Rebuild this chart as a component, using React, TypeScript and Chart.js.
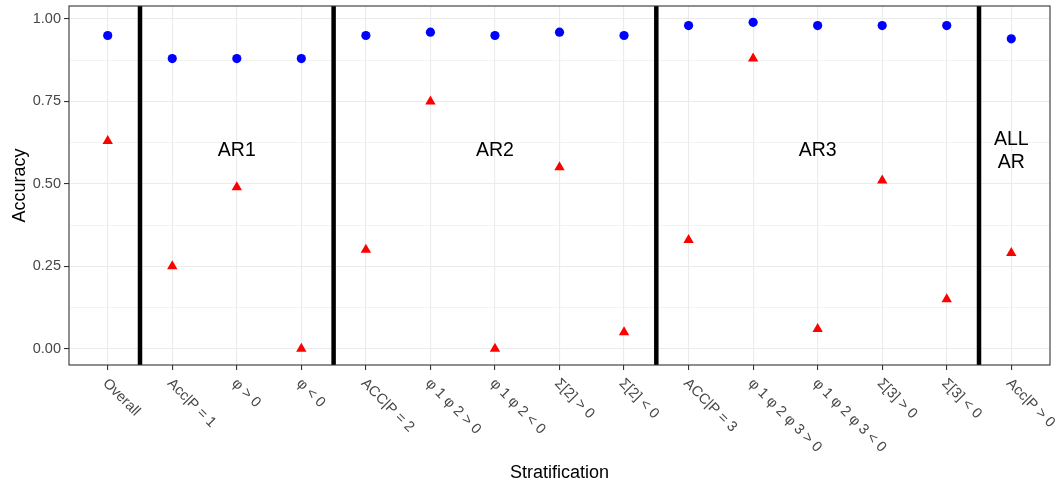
import React, { useEffect, useRef } from "react";
import { Chart, registerables } from "chart.js";

Chart.register(...registerables);

const categories = [
  "Overall",
  "Acc|P = 1",
  "φ > 0",
  "φ < 0",
  "ACC|P = 2",
  "φ 1 φ 2 > 0",
  "φ 1 φ 2 < 0",
  "Σ[2] > 0",
  "Σ[2] < 0",
  "ACC|P = 3",
  "φ 1 φ 2 φ 3 > 0",
  "φ 1 φ 2 φ 3 < 0",
  "Σ[3] > 0",
  "Σ[3] < 0",
  "Acc|P > 0",
];

const blueValues = [0.95, 0.88, 0.88, 0.88, 0.95, 0.96, 0.95, 0.96, 0.95, 0.98, 0.99, 0.98, 0.98, 0.98, 0.94];
const redValues = [0.63, 0.25, 0.49, 0.0, 0.3, 0.75, 0.0, 0.55, 0.05, 0.33, 0.88, 0.06, 0.51, 0.15, 0.29];

const separators = [0.5, 3.5, 8.5, 13.5];
const groupLabels = [
  { x: 2, y: 0.6, lines: ["AR1"] },
  { x: 6, y: 0.6, lines: ["AR2"] },
  { x: 11, y: 0.6, lines: ["AR3"] },
  { x: 14, y: 0.6, lines: ["ALL", "AR"] },
];
const yTicks = [0, 0.125, 0.25, 0.375, 0.5, 0.625, 0.75, 0.875, 1];

const FONT = "'Liberation Sans', Arial, sans-serif";

const isMajor = (v: number) => Math.abs(v * 4 - Math.round(v * 4)) < 1e-6;

const overlay = {
  id: "overlay",
  beforeDatasetsDraw(chart: any) {
    const { ctx, chartArea, scales } = chart;
    ctx.save();
    ctx.strokeStyle = "#000000";
    ctx.lineWidth = 4.5;
    for (const s of separators) {
      const px = scales.x.getPixelForValue(s);
      ctx.beginPath();
      ctx.moveTo(px, chartArea.top);
      ctx.lineTo(px, chartArea.bottom);
      ctx.stroke();
    }
    ctx.restore();
  },
  afterDraw(chart: any) {
    const { ctx, chartArea, scales } = chart;
    ctx.save();
    // group annotations
    ctx.fillStyle = "#000000";
    ctx.font = `19.5px ${FONT}`;
    ctx.textAlign = "center";
    ctx.textBaseline = "middle";
    const lh = 23.5;
    for (const g of groupLabels) {
      const px = scales.x.getPixelForValue(g.x);
      const py = scales.y.getPixelForValue(g.y);
      const n = g.lines.length;
      g.lines.forEach((t, i) => {
        ctx.fillText(t, px, py + (i - (n - 1) / 2) * lh);
      });
    }
    // panel border
    ctx.strokeStyle = "#333333";
    ctx.lineWidth = 1.1;
    ctx.strokeRect(chartArea.left, chartArea.top, chartArea.right - chartArea.left, chartArea.bottom - chartArea.top);
    // x tick labels
    ctx.fillStyle = "#474747";
    ctx.font = `14.5px ${FONT}`;
    ctx.textAlign = "left";
    ctx.textBaseline = "top";
    categories.forEach((c, i) => {
      const px = scales.x.getPixelForValue(i);
      ctx.save();
      ctx.translate(px + 2.5, chartArea.bottom + 11);
      ctx.rotate(Math.PI / 4);
      ctx.fillText(c, 0, 0);
      ctx.restore();
    });
    // axis titles
    ctx.fillStyle = "#000000";
    ctx.font = `18px ${FONT}`;
    ctx.textAlign = "center";
    ctx.textBaseline = "alphabetic";
    ctx.fillText("Stratification", (chartArea.left + chartArea.right) / 2, 478);
    ctx.save();
    ctx.translate(25, (chartArea.top + chartArea.bottom) / 2);
    ctx.rotate(-Math.PI / 2);
    ctx.fillText("Accuracy", 0, 0);
    ctx.restore();
    ctx.restore();
  },
};

export default function App() {
  const ref = useRef<HTMLCanvasElement | null>(null);
  useEffect(() => {
    if (!ref.current) return;
    const chart = new Chart(ref.current, {
      type: "scatter",
      data: {
        datasets: [
          {
            label: "blue",
            data: blueValues.map((v, i) => ({ x: i, y: v })),
            backgroundColor: "#0000ff",
            borderColor: "#0000ff",
            pointStyle: "circle",
            pointRadius: 4.6,
            borderWidth: 0,
          },
          {
            label: "red",
            data: redValues.map((v, i) => ({ x: i, y: v })),
            backgroundColor: "#ff0000",
            borderColor: "#ff0000",
            pointStyle: "triangle",
            pointRadius: 6,
            borderWidth: 0,
          },
        ],
      },
      options: {
        animation: false,
        responsive: false,
        devicePixelRatio: 1,
        layout: { padding: { top: 5, right: 10, left: 0, bottom: 0 } },
        plugins: { legend: { display: false }, tooltip: { enabled: false } },
        scales: {
          x: {
            type: "linear",
            min: -0.6,
            max: 14.6,
            afterBuildTicks: (scale: any) => {
              scale.ticks = categories.map((_, i) => ({ value: i }));
            },
            afterFit: (scale: any) => {
              scale.height = 116;
              scale.paddingLeft = 0;
              scale.paddingRight = 0;
            },
            ticks: { display: false },
            border: { display: false },
            grid: {
              color: "#ebebeb",
              lineWidth: 1.1,
              tickColor: "#333333",
              tickLength: 5,
              tickWidth: 1.1,
            },
          },
          y: {
            type: "linear",
            min: -0.0495,
            max: 1.0395,
            afterBuildTicks: (scale: any) => {
              scale.ticks = yTicks.map((v) => ({ value: v }));
            },
            afterFit: (scale: any) => {
              scale.width = 69;
              scale.paddingTop = 0;
              scale.paddingBottom = 0;
            },
            ticks: {
              color: "#474747",
              font: { family: FONT, size: 14.5 },
              padding: 3,
              callback: (v: any) => (isMajor(Number(v)) ? Number(v).toFixed(2) : ""),
            },
            border: { display: false },
            grid: {
              color: "#ebebeb",
              lineWidth: (c: any) => (c.tick && isMajor(c.tick.value) ? 1.1 : 0.6),
              tickColor: (c: any) => (c.tick && isMajor(c.tick.value) ? "#333333" : "rgba(0,0,0,0)"),
              tickLength: 5,
              tickWidth: 1.1,
            },
          },
        },
      },
      plugins: [overlay],
    });
    return () => chart.destroy();
  }, []);
  return (
    <canvas
      ref={ref}
      width={1060}
      height={481}
      style={{ position: "absolute", left: 0, top: 0, width: 1060, height: 481 }}
    />
  );
}
